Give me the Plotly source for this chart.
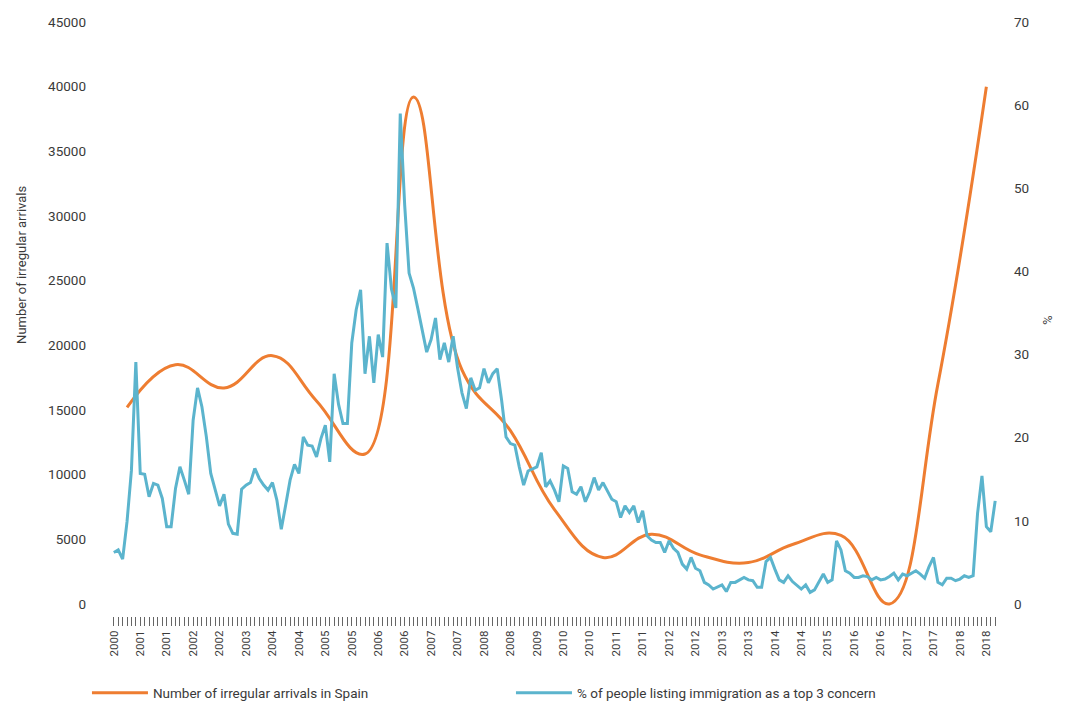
import plotly.graph_objects as go

# ---------------- data ----------------
# x-axis tick labels (one every 6 survey periods)
tick_years = ["2000", "2001", "2001", "2002", "2002", "2003", "2004", "2004", "2005", "2005",
              "2006", "2006", "2007", "2007", "2008", "2008", "2009", "2010", "2010", "2011",
              "2011", "2012", "2012", "2013", "2013", "2014", "2014", "2015", "2016", "2016",
              "2017", "2017", "2018", "2018"]
label_every = 6

# % of people listing immigration as a top 3 concern (one value per survey period)
concern_pct = [
    6.2, 6.5, 5.4, 9.9, 16.1, 29.1, 15.7, 15.6, 12.9, 14.5,
    14.3, 12.7, 9.3, 9.3, 13.9, 16.5, 14.9, 13.2, 22.1, 26.0,
    23.7, 20.1, 15.7, 13.7, 11.8, 13.2, 9.6, 8.5, 8.4, 13.8,
    14.3, 14.6, 16.3, 15.1, 14.3, 13.7, 14.6, 12.5, 9.0, 11.9,
    14.9, 16.8, 15.7, 20.1, 19.1, 19.0, 17.7, 19.9, 21.5, 17.1,
    27.7, 24.0, 21.7, 21.7, 31.4, 35.4, 37.8, 27.7, 32.2, 26.6,
    32.4, 29.7, 43.4, 37.9, 35.6, 59.0, 48.0, 39.8, 38.0, 35.5,
    32.7, 30.3, 31.8, 34.4, 29.4, 31.4, 29.1, 32.2, 28.4, 25.4,
    23.5, 27.2, 25.7, 26.0, 28.3, 26.6, 27.7, 28.3, 24.5, 20.1,
    19.3, 19.1, 16.5, 14.3, 16.0, 16.3, 16.5, 18.2, 14.1, 14.8,
    13.7, 12.3, 16.6, 16.3, 13.5, 13.2, 14.1, 12.3, 13.5, 15.2,
    13.7, 14.6, 13.5, 12.6, 12.3, 10.4, 11.8, 11.0, 11.8, 9.8,
    11.2, 8.2, 7.7, 7.4, 7.4, 6.2, 7.6, 6.7, 6.2, 4.8,
    4.2, 5.6, 4.3, 4.0, 2.6, 2.3, 1.8, 2.1, 2.3, 1.5,
    2.6, 2.6, 2.9, 3.2, 2.9, 2.8, 2.0, 2.0, 5.1, 5.6,
    4.2, 2.9, 2.6, 3.4, 2.7, 2.2, 1.8, 2.3, 1.4, 1.7,
    2.6, 3.6, 2.6, 2.9, 7.6, 6.5, 4.0, 3.7, 3.2, 3.2,
    3.4, 3.3, 2.9, 3.2, 2.9, 3.0, 3.3, 3.7, 2.9, 3.6,
    3.4, 3.7, 4.0, 3.6, 3.1, 4.5, 5.6, 2.6, 2.3, 3.1,
    3.1, 2.8, 3.0, 3.4, 3.2, 3.4, 10.9, 15.4, 9.3, 8.7, 12.4,
]

# Number of irregular arrivals in Spain (yearly), placed at the survey period of each year
arrival_years = [2000, 2001, 2002, 2003, 2004, 2005, 2006, 2007, 2008, 2009,
                 2010, 2011, 2012, 2013, 2014, 2015, 2016, 2017, 2018]
arrival_period = [3, 14, 25, 36, 46, 57, 68, 79, 90, 100,
                  111, 122, 133, 144, 154, 165, 176, 187, 198]
arrivals = [15200, 18500, 16700, 19200, 15700, 11600, 39200, 18100, 13400, 7300,
            3600, 5400, 3800, 3200, 4600, 5300, 0, 17000, 40000]

left_ticks = [0, 5000, 10000, 15000, 20000, 25000, 30000, 35000, 40000, 45000]
right_ticks = [0, 10, 20, 30, 40, 50, 60, 70]

# ---------------- figure ----------------
FONT = "Roboto, Lato, sans-serif"
TXT = "#3a3a3a"
ORANGE = "#ee7d31"
BLUE = "#5bb4cd"

periods = list(range(len(concern_pct)))
ticktext = []
for i in periods:
    k = i // label_every
    if i % label_every == 0 and k < len(tick_years):
        ticktext.append(tick_years[k])
    else:
        ticktext.append("")

fig = go.Figure()
fig.add_trace(go.Scatter(
    x=arrival_period, y=arrivals, mode="lines",
    name="Number of irregular arrivals in Spain",
    line=dict(color=ORANGE, width=3, shape="spline", smoothing=1.2),
    yaxis="y", hoverinfo="skip",
))
fig.add_trace(go.Scatter(
    x=periods, y=concern_pct, mode="lines",
    name="% of people listing immigration as a top 3 concern",
    line=dict(color=BLUE, width=3),
    yaxis="y2", hoverinfo="skip",
))

fig.update_layout(
    width=1067, height=702,
    margin=dict(l=105, r=63, t=22, b=86, autoexpand=False),
    paper_bgcolor="white", plot_bgcolor="white",
    font=dict(family=FONT, color=TXT, size=13),
    showlegend=True,
    legend=dict(orientation="h", xref="container", yref="container",
                x=0.0815, xanchor="left", y=0.0128, yanchor="middle",
                entrywidth=353, entrywidthmode="pixels",
                font=dict(family=FONT, size=13.5, color=TXT), itemwidth=56),
    xaxis=dict(
        range=[-2, 202], showgrid=False, zeroline=False, showline=False,
        automargin=False,
        tickmode="array", tickvals=periods, ticktext=ticktext,
        ticks="outside", ticklen=9, tickwidth=1, tickcolor="#666666",
        tickangle=-90, tickfont=dict(family=FONT, size=11.5, color=TXT),
    ),
    yaxis=dict(
        range=[-928, 45000], showgrid=False, zeroline=False, showline=False,
        automargin=False,
        tickmode="array", tickvals=left_ticks, ticktext=[str(v) for v in left_ticks],
        ticks="", ticklabelstandoff=18,
        tickfont=dict(family=FONT, size=13.5, color=TXT),
    ),
    yaxis2=dict(
        range=[-1.443, 70], overlaying="y", side="right",
        showgrid=False, zeroline=False, showline=False, automargin=False,
        tickmode="array", tickvals=right_ticks, ticktext=[str(v) for v in right_ticks],
        ticks="", ticklabelstandoff=9,
        tickfont=dict(family=FONT, size=13.5, color=TXT),
    ),
    annotations=[
        dict(text="Number of irregular arrivals", xref="paper", yref="paper",
             x=-0.0924, y=0.591, xanchor="center", yanchor="middle",
             textangle=-90, showarrow=False,
             font=dict(family=FONT, size=13, color=TXT)),
        dict(text="%", xref="paper", yref="paper",
             x=1.049, y=0.498, xanchor="center", yanchor="middle",
             textangle=90, showarrow=False,
             font=dict(family=FONT, size=13, color=TXT)),
    ],
)

fig.write_html("out.html", config={"displayModeBar": False},
               post_script="document.body.style.margin='0';")
